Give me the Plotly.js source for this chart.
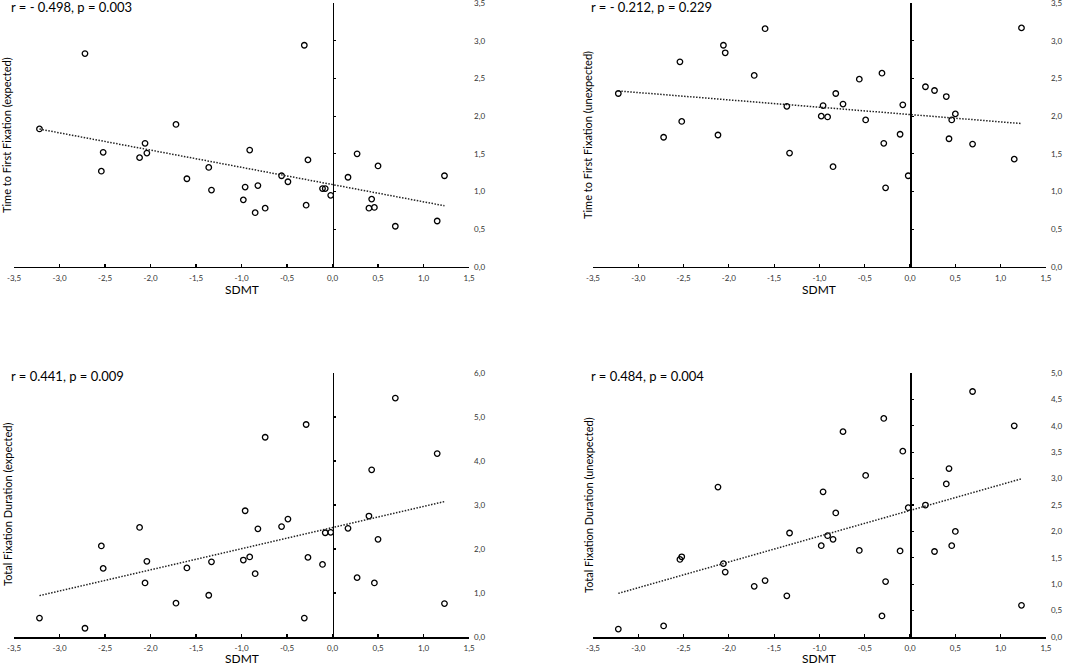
<!DOCTYPE html>
<html>
<head>
<meta charset="utf-8">
<script src="https://cdn.plot.ly/plotly-3.0.1.min.js"></script>
<style>
  html, body { margin: 0; padding: 0; background: #fff; }
  #chart { width: 1084px; height: 666px; }
</style>
</head>
<body>
<div id="chart"></div>
<script>
(() => {
  "use strict";

  // SDMT z-scores, one per participant (shared by all four panels)
  const sdmt = [-3.22, -2.72, -2.54, -2.52, -2.12, -2.06, -2.04, -1.72, -1.60, -1.36,
                -1.33, -0.98, -0.96, -0.91, -0.85, -0.82, -0.74, -0.56, -0.49, -0.31,
                -0.29, -0.27, -0.11, -0.08, -0.02, 0.17, 0.27, 0.40, 0.43, 0.46,
                0.50, 0.69, 1.15, 1.23];

  const ttffExpected = [1.83, 2.83, 1.27, 1.52, 1.45, 1.64, 1.51, 1.89, 1.17, 1.32,
                        1.02, 0.89, 1.06, 1.55, 0.72, 1.08, 0.78, 1.21, 1.13, 2.94,
                        0.82, 1.42, 1.04, 1.04, 0.95, 1.19, 1.50, 0.78, 0.90, 0.79,
                        1.34, 0.54, 0.61, 1.21];

  const ttffUnexpected = [2.30, 1.72, 2.72, 1.93, 1.75, 2.94, 2.84, 2.54, 3.16, 2.13,
                          1.51, 2.00, 2.14, 1.99, 1.33, 2.30, 2.16, 2.49, 1.95, 2.57,
                          1.64, 1.05, 1.76, 2.15, 1.21, 2.39, 2.34, 2.26, 1.70, 1.95,
                          2.03, 1.63, 1.43, 3.17];

  const tfdExpected = [0.43, 0.20, 2.07, 1.56, 2.49, 1.23, 1.72, 0.77, 1.57, 0.95,
                       1.71, 1.75, 2.87, 1.82, 1.44, 2.46, 4.54, 2.51, 2.68, 0.43,
                       4.83, 1.81, 1.65, 2.37, 2.38, 2.47, 1.35, 2.75, 3.80, 1.23,
                       2.22, 5.43, 4.17, 0.76];

  const tfdUnexpected = [0.15, 0.21, 1.47, 1.52, 2.84, 1.39, 1.23, 0.96, 1.07, 0.78,
                         1.97, 1.73, 2.75, 1.92, 1.85, 2.35, 3.89, 1.64, 3.06, 0.40,
                         4.14, 1.05, 1.63, 3.52, 2.45, 2.50, 1.62, 2.90, 3.19, 1.73,
                         2.00, 4.65, 4.00, 0.60];

  const xTicks = [-3.5, -3.0, -2.5, -2.0, -1.5, -1.0, -0.5, 0.0, 0.5, 1.0, 1.5];
  const xTickText = ["-3,5", "-3,0", "-2,5", "-2,0", "-1,5", "-1,0", "-0,5", "0,0", "0,5", "1,0", "1,5"];

  const ticks35 = [0, 0.5, 1.0, 1.5, 2.0, 2.5, 3.0, 3.5];
  const ticks35Text = ["0,0", "0,5", "1,0", "1,5", "2,0", "2,5", "3,0", "3,5"];
  const ticks60 = [0, 1, 2, 3, 4, 5, 6];
  const ticks60Text = ["0,0", "1,0", "2,0", "3,0", "4,0", "5,0", "6,0"];
  const ticks50 = [0, 0.5, 1.0, 1.5, 2.0, 2.5, 3.0, 3.5, 4.0, 4.5, 5.0];
  const ticks50Text = ["0,0", "0,5", "1,0", "1,5", "2,0", "2,5", "3,0", "3,5", "4,0", "4,5", "5,0"];

  const panels = [
    { y: ttffExpected, title: "Time to First Fixation (expected)", stat: "r = - 0.498, p = 0.003",
      ymax: 3.5, tv: ticks35, tt: ticks35Text, xd: [0.0129, 0.4327], yd: [0.5991, 0.9955],
      statY: 7.5, sdmtGap: 23 },
    { y: ttffUnexpected, title: "Time to First Fixation (unexpected)", stat: "r = - 0.212, p = 0.229",
      ymax: 3.5, tv: ticks35, tt: ticks35Text, xd: [0.5470, 0.9649], yd: [0.5991, 0.9955],
      statY: 7.5, sdmtGap: 23 },
    { y: tfdExpected, title: "Total Fixation Duration (expected)", stat: "r = 0.441, p = 0.009",
      ymax: 6.0, tv: ticks60, tt: ticks60Text, xd: [0.0129, 0.4327], yd: [0.0435, 0.4399],
      statY: 376, sdmtGap: 21.5 },
    { y: tfdUnexpected, title: "Total Fixation Duration (unexpected)", stat: "r = 0.484, p = 0.004",
      ymax: 5.0, tv: ticks50, tt: ticks50Text, xd: [0.5470, 0.9649], yd: [0.0435, 0.4399],
      statY: 376, sdmtGap: 21.5 },
  ];

  const W = 1084, H = 666;
  const XMIN = -3.5, XMAX = 1.5;
  const FONT = "Lato, 'Open Sans', sans-serif";

  function fit(xs, ys) {
    const n = xs.length;
    let sx = 0, sy = 0, sxx = 0, sxy = 0;
    for (let i = 0; i < n; i++) {
      sx += xs[i]; sy += ys[i];
      sxx += xs[i] * xs[i]; sxy += xs[i] * ys[i];
    }
    const b = (n * sxy - sx * sy) / (n * sxx - sx * sx);
    const a = (sy - b * sx) / n;
    return { a, b };
  }

  const traces = [];
  const layout = {
    width: W,
    height: H,
    margin: { l: 0, r: 0, t: 0, b: 0 },
    paper_bgcolor: "#fff",
    plot_bgcolor: "rgba(0,0,0,0)",
    showlegend: false,
    font: { family: FONT, color: "#000" },
    annotations: [],
  };

  panels.forEach((p, i) => {
    const k = i + 1;
    const sfx = k === 1 ? "" : String(k);
    const xa = "x" + sfx, ya = "y" + sfx;
    const yz = "y" + (k + 4);

    // regression line across the observed SDMT range (on the zero-line axis so it gets drawn)
    const { a, b } = fit(sdmt, p.y);
    const x0 = Math.min(...sdmt), x1 = Math.max(...sdmt);
    traces.push({
      type: "scatter", mode: "lines", xaxis: xa, yaxis: yz,
      x: [x0, x1], y: [a + b * x0, a + b * x1],
      line: { color: "#222", width: 1.5, dash: "1.5px,1.5px" },
      hoverinfo: "skip",
    });

    traces.push({
      type: "scatter", mode: "markers", xaxis: xa, yaxis: ya,
      x: sdmt, y: p.y,
      marker: { symbol: "circle-open", size: 5.5, color: "#000", line: { width: 1.3, color: "#000" } },
    });

    layout["xaxis" + sfx] = {
      domain: p.xd, anchor: ya, range: [XMIN, XMAX],
      showgrid: false, zeroline: false,
      showline: true, linecolor: "#000", linewidth: 1.5,
      ticks: "inside", ticklen: 3, tickwidth: 1.2, tickcolor: "#000",
      tickvals: xTicks, ticktext: xTickText,
      ticklabelstandoff: 3,
      tickfont: { size: 8, color: "#333", family: FONT },
    };

    layout["yaxis" + sfx] = {
      domain: p.yd, anchor: xa, side: "right", range: [0, p.ymax],
      showgrid: false, zeroline: false, showline: false,
      ticks: "", tickvals: p.tv, ticktext: p.tt,
      ticklabelstandoff: 4, ticklabeloverflow: "allow",
      tickfont: { size: 8, color: "#333", family: FONT },
    };

    // vertical axis drawn through SDMT = 0
    const zeroPos = p.xd[0] + (0 - XMIN) / (XMAX - XMIN) * (p.xd[1] - p.xd[0]);
    layout["yaxis" + (k + 4)] = {
      overlaying: ya, anchor: "free", position: zeroPos, side: "left",
      range: [0, p.ymax], showgrid: false, zeroline: false,
      showline: true, linecolor: "#000", linewidth: 1.5,
      ticks: "inside", ticklen: 2, tickwidth: 1.2, tickcolor: "#000",
      tickvals: p.tv, showticklabels: false,
    };

    const mid = (p.yd[0] + p.yd[1]) / 2;
    const xmid = (p.xd[0] + p.xd[1]) / 2;
    const isLeft = p.xd[0] < 0.5;

    layout.annotations.push({
      xref: "paper", yref: "paper",
      x: (isLeft ? 9 : 589) / W, y: 1 - p.statY / H,
      xanchor: "left", yanchor: "middle", showarrow: false,
      text: p.stat, font: { size: 13, family: FONT, color: "#000" },
    });
    layout.annotations.push({
      xref: "paper", yref: "paper",
      x: (isLeft ? 7 : 588) / W, y: mid,
      xanchor: "center", yanchor: "middle", showarrow: false, textangle: -90,
      text: p.title, font: { size: 11, family: FONT, color: "#000" },
    });
    layout.annotations.push({
      xref: "paper", yref: "paper",
      x: xmid, y: p.yd[0] - p.sdmtGap / H,
      xanchor: "center", yanchor: "middle", showarrow: false,
      text: "SDMT", font: { size: 12, family: FONT, color: "#000" },
    });
  });

  Plotly.newPlot("chart", traces, layout, { staticPlot: true, displayModeBar: false });
})();
</script>
</body>
</html>
